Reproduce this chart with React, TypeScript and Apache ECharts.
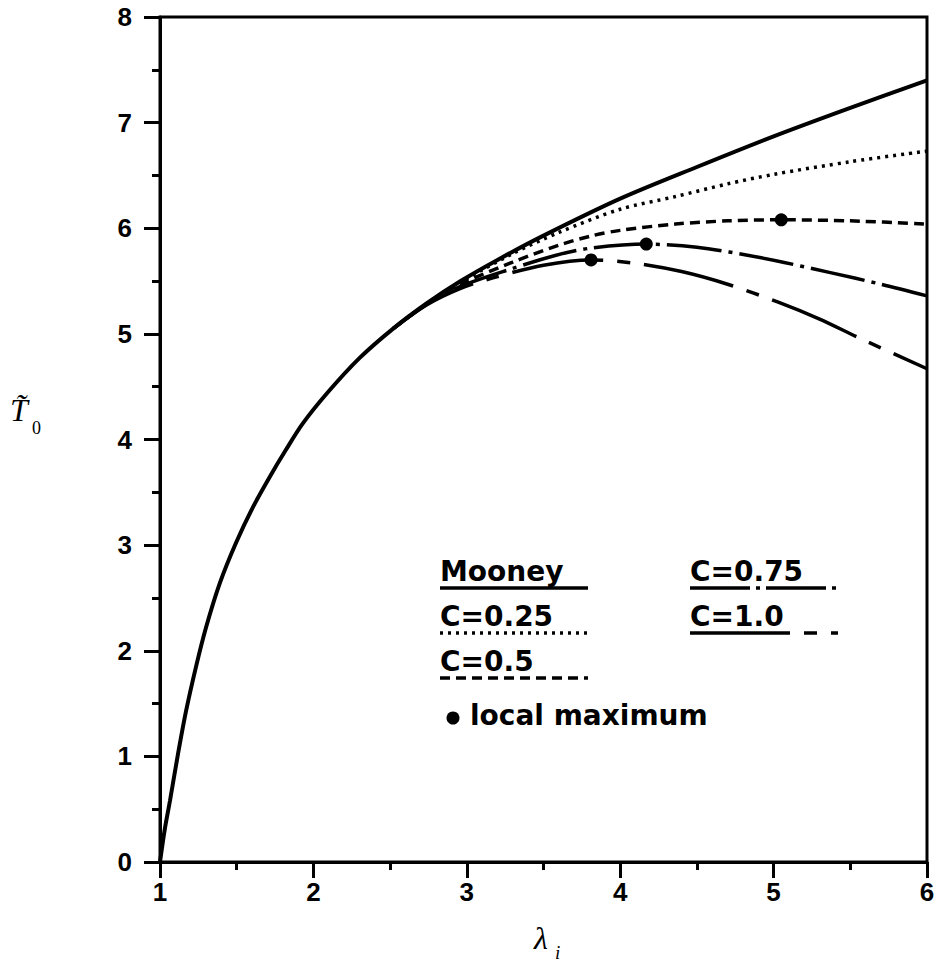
import React, { useEffect, useRef } from "react";
import * as echarts from "echarts";

// Mooney curve (solid)
const mooneyLambda = [1, 1.03, 1.065, 1.117, 1.17, 1.235, 1.3, 1.39, 1.495, 1.606, 1.717, 1.82, 1.93, 2.09, 2.3, 2.52, 2.74, 2.96, 3.2, 3.5, 4.0, 4.5, 5.0, 5.5, 6.0];
const mooneyT = [0, 0.3, 0.58, 1.02, 1.43, 1.85, 2.22, 2.64, 3.02, 3.36, 3.65, 3.9, 4.15, 4.44, 4.77, 5.05, 5.29, 5.5, 5.7, 5.93, 6.28, 6.58, 6.87, 7.14, 7.4];

// C = 0.25 (dotted)
const c025Lambda = [2.52, 2.74, 2.96, 3.3, 3.6, 4.0, 4.36, 4.7, 5.0, 5.5, 6.0];
const c025T = [5.05, 5.29, 5.49, 5.76, 5.96, 6.18, 6.3, 6.42, 6.51, 6.63, 6.73];

// C = 0.5 (dashed)
const c05Lambda = [2.52, 2.74, 2.96, 3.3, 3.6, 3.82, 4.0, 4.36, 4.7, 5.05, 5.5, 6.0];
const c05T = [5.05, 5.285, 5.47, 5.68, 5.84, 5.93, 5.98, 6.04, 6.07, 6.08, 6.07, 6.04];

// C = 0.75 (dash-dot)
const c075Lambda = [2.52, 2.74, 2.96, 3.3, 3.57, 3.8, 4.17, 4.5, 4.92, 5.37, 5.7, 6.0];
const c075T = [5.05, 5.28, 5.45, 5.62, 5.74, 5.81, 5.85, 5.82, 5.72, 5.58, 5.47, 5.36];

// C = 1.0 (long dash)
const c10Lambda = [2.52, 2.74, 2.96, 3.17, 3.5, 3.81, 4.09, 4.4, 4.7, 5.03, 5.3, 5.56, 6.0];
const c10T = [5.05, 5.275, 5.43, 5.53, 5.65, 5.7, 5.67, 5.59, 5.47, 5.3, 5.14, 4.96, 4.67];

// local maxima
const maxLambda = [3.81, 4.17, 5.05];
const maxT = [5.7, 5.85, 6.08];

const xTicks = [1, 2, 3, 4, 5, 6];
const yTicks = [0, 1, 2, 3, 4, 5, 6, 7, 8];

const zip = (a: number[], b: number[]) => a.map((v, i) => [v, b[i]]);

const LEG_FONT = 'bold 28px "DejaVu Sans"';
const SERIF = '"Liberation Serif", "DejaVu Serif", serif';

export default function App() {
  const ref = useRef<HTMLDivElement>(null);
  useEffect(() => {
    if (!ref.current) return;
    const chart = echarts.init(ref.current, null, { renderer: "svg" });
    const lineBase = (name: string, data: number[][], type: any, width = 3.5) => ({
      name,
      type: "line",
      data,
      smooth: 0.3,
      symbol: "none",
      lineStyle: { color: "#000", width, type, cap: "butt" },
      z: 3,
    });
    const legText = (text: string, x: number, y: number) => ({
      type: "text",
      x,
      y,
      style: {
        text,
        font: LEG_FONT,
        fill: "#000",
        textAlign: "left",
        textVerticalAlign: "middle",
        align: "left",
        verticalAlign: "middle",
      },
    });
    const legLine = (x1: number, x2: number, y: number, dash: any) => ({
      type: "line",
      shape: { x1, y1: y, x2, y2: y },
      style: { stroke: "#000", lineWidth: 3.5, lineDash: dash },
    });
    const topText = (text: string, x: number, y: number, font: string) => ({
      type: "text",
      x,
      y,
      style: { text, font, fill: "#000", textAlign: "left", textVerticalAlign: "top", align: "left", verticalAlign: "top" },
    });
    chart.setOption({
      animation: false,
      backgroundColor: "#fff",
      grid: {
        left: 160,
        right: 21,
        top: 17,
        bottom: 105,
        show: true,
        borderColor: "#000",
        borderWidth: 3,
      },
      xAxis: {
        type: "value",
        min: xTicks[0],
        max: xTicks[xTicks.length - 1],
        interval: 1,
        axisLine: { show: true, onZero: false, lineStyle: { color: "#000", width: 3 } },
        axisTick: { show: true, length: 16, lineStyle: { color: "#000", width: 3 } },
        minorTick: { show: true, splitNumber: 2, length: 8, lineStyle: { color: "#000", width: 3 } },
        splitLine: { show: false },
        axisLabel: {
          color: "#000",
          fontSize: 26,
          fontWeight: "bold",
          fontFamily: '"Liberation Sans", Arial, sans-serif',
          margin: 17,
        },
      },
      yAxis: {
        type: "value",
        min: yTicks[0],
        max: yTicks[yTicks.length - 1],
        interval: 1,
        axisLine: { show: true, onZero: false, lineStyle: { color: "#000", width: 3 } },
        axisTick: { show: true, length: 16, lineStyle: { color: "#000", width: 3 } },
        minorTick: { show: true, splitNumber: 2, length: 8, lineStyle: { color: "#000", width: 3 } },
        splitLine: { show: false },
        axisLabel: {
          color: "#000",
          fontSize: 26,
          fontWeight: "bold",
          fontFamily: '"Liberation Sans", Arial, sans-serif',
          margin: 28,
        },
      },
      series: [
        lineBase("Mooney", zip(mooneyLambda, mooneyT), "solid", 4),
        lineBase("C=0.25", zip(c025Lambda, c025T), [3, 5]),
        lineBase("C=0.5", zip(c05Lambda, c05T), [10, 6]),
        lineBase("C=0.75", zip(c075Lambda, c075T), [55, 7, 4, 7]),
        lineBase("C=1.0", zip(c10Lambda, c10T), [92, 14, 13, 14]),
        {
          name: "local maximum",
          type: "scatter",
          data: zip(maxLambda, maxT),
          symbol: "circle",
          symbolSize: 13,
          itemStyle: { color: "#000", opacity: 1 },
          z: 5,
        },
      ],
      graphic: [
        legText("Mooney", 440, 571),
        legLine(440, 588, 588, null),
        legText("C=0.75", 690, 571),
        legLine(690, 838, 588, [60, 6, 4, 6]),
        legText("C=0.25", 440, 616),
        legLine(440, 588, 633, [3, 5]),
        legText("C=1.0", 690, 616),
        legLine(690, 838, 633, [100, 14, 13, 14]),
        legText("C=0.5", 440, 661),
        legLine(440, 588, 678, [10, 6]),
        {
          type: "circle",
          shape: { cx: 453, cy: 718, r: 6.5 },
          style: { fill: "#000" },
        },
        legText("local maximum", 470, 715),
        // y-axis name: T tilde, subscript 0
        topText("T\u0303", 10, 394, `italic 32px ${SERIF}`),
        topText("0", 32, 419, `18px ${SERIF}`),
        // x-axis name: lambda, subscript i
        topText("λ", 534, 922, `italic 32px ${SERIF}`),
        topText("i", 555, 943, `italic 19px ${SERIF}`),
      ],
    });
    return () => chart.dispose();
  }, []);
  return (
    <div
      ref={ref}
      style={{ position: "absolute", left: 0, top: 0, width: 948, height: 967, background: "#fff" }}
    />
  );
}
